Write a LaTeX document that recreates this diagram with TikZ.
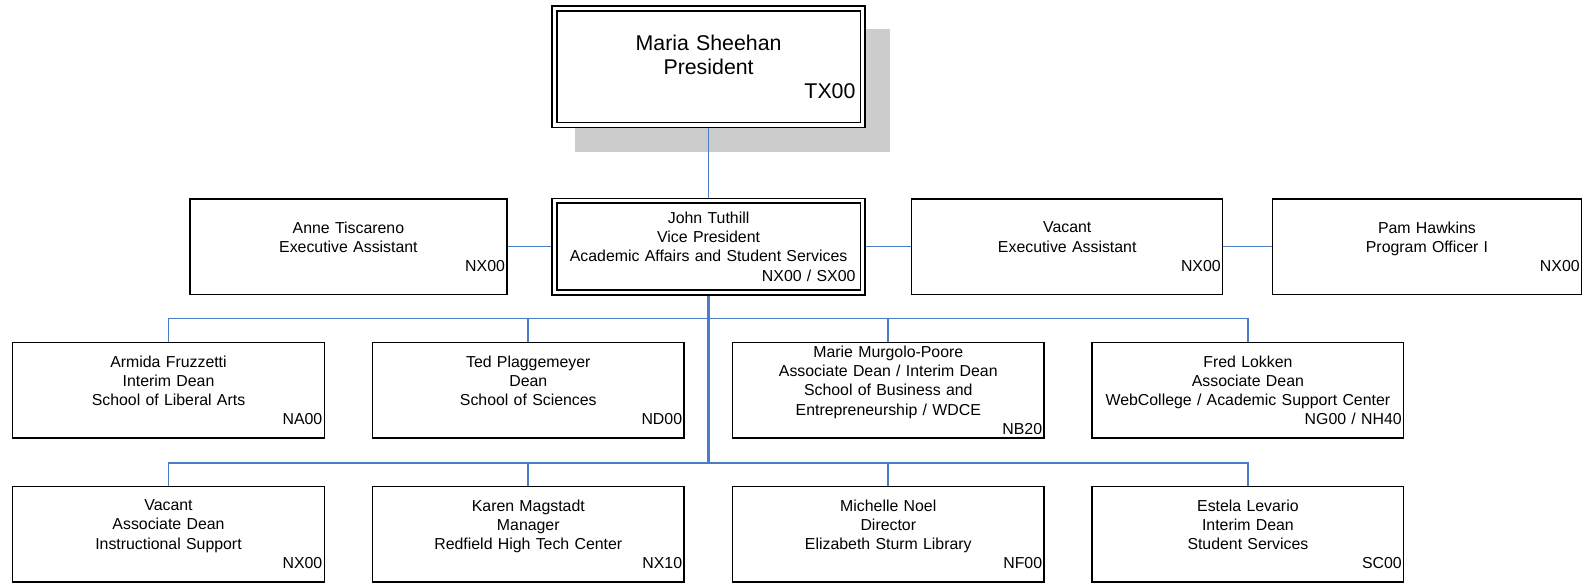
\documentclass[tikz,border=0pt]{standalone}
\usepackage{fontspec}
\setmainfont{Liberation Sans}
\usetikzlibrary{backgrounds}
\definecolor{connblue}{RGB}{74,126,196}
\definecolor{shadowgray}{RGB}{204,204,204}
\begin{document}
\begin{tikzpicture}[x=0.75pt,y=-0.75pt,
  gridfont/.style={font=\fontsize{11.9pt}{14.4pt}\selectfont},
  orgbox/.style={draw=black, fill=white, line width=1.1pt, inner sep=0pt, rectangle, align=center, gridfont, minimum height=71.5pt},
  gridbox/.style={orgbox, minimum width=233.7pt, text width=230.7pt},
  dblbox/.style={draw=black, fill=white, line width=1.1pt, double=white, double distance=2.5pt, inner sep=0pt, outer sep=2.4pt, rectangle, align=center, minimum width=231.2pt, text width=220.3pt},
  conn/.style={draw=connblue, line width=1.25pt},
  trunk/.style={draw=connblue, line width=1.7pt},
  shadowbox/.style={fill=shadowgray},
]
\useasboundingbox (0,0) rectangle (1592,583);

% president
\node[dblbox, minimum height=87.4pt, font=\fontsize{16pt}{18pt}\selectfont]
  (pres) at (708.6,66.75) {Maria Sheehan\\President\\\makebox[\linewidth][r]{TX00}};
\begin{scope}[on background layer]
  \fill[shadowbox] ([shift={(24,24)}]pres.north west) rectangle ([shift={(24,24)}]pres.south east);
\end{scope}

% second row
\node[dblbox, gridfont, minimum height=68.8pt] (vp) at (708.6,246.65)
  {John Tuthill\\Vice President\\Academic Affairs and Student Services\\\makebox[\linewidth][r]{NX00 / SX00}};
\node[orgbox, minimum width=237.75pt, text width=234.75pt] (anne) at (348.4,246.65)
  {Anne Tiscareno\\Executive Assistant\\\makebox[\linewidth][r]{NX00}};
\node[orgbox, minimum width=233.25pt, text width=230.25pt] (vacea) at (1067.2,246.65)
  {Vacant\\Executive Assistant\\\makebox[\linewidth][r]{NX00}};
\node[orgbox, minimum width=232pt, text width=229pt] (pam) at (1427,246.65)
  {Pam Hawkins\\Program Officer I\\\makebox[\linewidth][r]{NX00}};

% third row
\node[gridbox] (a1) at (168.5,390.25)
  {Armida Fruzzetti\\Interim Dean\\School of Liberal Arts\\\makebox[\linewidth][r]{NA00}};
\node[gridbox] (a2) at (528.3,390.25)
  {Ted Plaggemeyer\\Dean\\School of Sciences\\\makebox[\linewidth][r]{ND00}};
\node[gridbox] (a3) at (888.3,390.25)
  {Marie Murgolo-Poore\\Associate Dean / Interim Dean\\School of Business and\\Entrepreneurship / WDCE\\\makebox[\linewidth][r]{NB20}};
\node[gridbox] (a4) at (1247.9,390.25)
  {Fred Lokken\\Associate Dean\\WebCollege / Academic Support Center\\\makebox[\linewidth][r]{NG00 / NH40}};

% fourth row
\node[gridbox] (b1) at (168.5,534.2)
  {Vacant\\Associate Dean\\Instructional Support\\\makebox[\linewidth][r]{NX00}};
\node[gridbox] (b2) at (528.3,534.2)
  {Karen Magstadt\\Manager\\Redfield High Tech Center\\\makebox[\linewidth][r]{NX10}};
\node[gridbox] (b3) at (888.3,534.2)
  {Michelle Noel\\Director\\Elizabeth Sturm Library\\\makebox[\linewidth][r]{NF00}};
\node[gridbox] (b4) at (1247.9,534.2)
  {Estela Levario\\Interim Dean\\Student Services\\\makebox[\linewidth][r]{SC00}};

% bus coordinates
\coordinate (bus3) at (708.6,318.5);
\coordinate (bus4) at (708.6,462.7);

% connectors
\draw[conn] (pres.south) -- (vp.north);
\draw[conn] (anne.east) -- (vp.west);
\draw[conn] (vp.east) -- (vacea.west);
\draw[conn] (vacea.east) -- (pam.west);
\draw[trunk] (vp.south) -- (bus4);
\draw[conn] (a1.north) |- (bus3) -| (a4.north);
\draw[conn] (a2.north) -- (a2.north |- bus3);
\draw[conn] (a3.north) -- (a3.north |- bus3);
\draw[conn] (b1.north) |- (bus4) -| (b4.north);
\draw[conn] (b2.north) -- (b2.north |- bus4);
\draw[conn] (b3.north) -- (b3.north |- bus4);
\end{tikzpicture}
\end{document}
